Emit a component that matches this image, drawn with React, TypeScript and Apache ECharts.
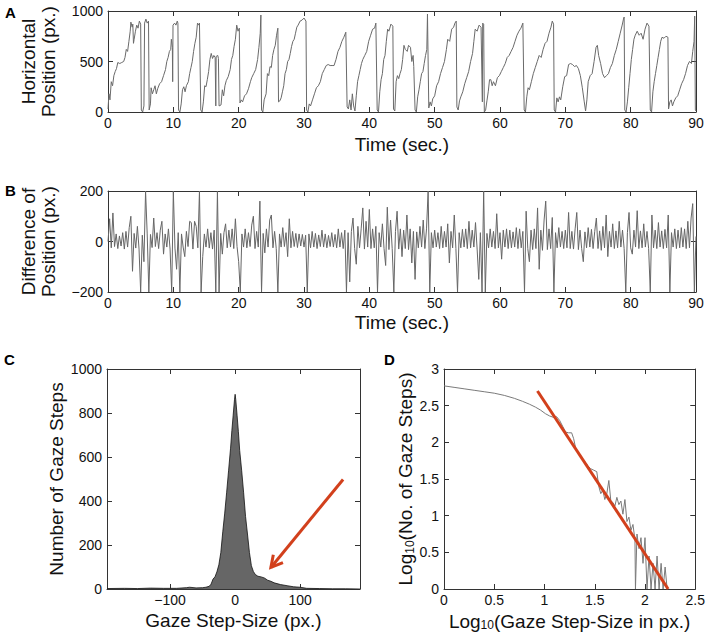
import React, { useEffect, useRef } from 'react';
import * as echarts from 'echarts';

const FONT = '"Liberation Sans", Arial, Helvetica, sans-serif';

// Panel A: horizontal gaze position over time [sec, px]
const positionSeries: [number, number][] = [
  [0.0, 30], [0.15, 180], [0.3, 120], [0.5, 300], [0.7, 260], [0.9, 360], [1.1, 400], [1.3, 430], [1.5, 490], [1.8, 480],
  [2.1, 490], [2.4, 500], [2.6, 540], [2.8, 620], [3.0, 600], [3.2, 700], [3.4, 800], [3.5, 890], [3.7, 840], [3.8, 870],
  [3.9, 680], [4.0, 720], [4.2, 800], [4.4, 860], [4.6, 830], [4.8, 900], [5.0, 870], [5.1, 20], [5.3, 0], [5.5, 60],
  [5.6, 880], [5.8, 920], [6.0, 880], [6.2, 900], [6.3, 20], [6.5, 80], [6.6, 240], [6.8, 180], [7.0, 220], [7.2, 260],
  [7.4, 180], [7.6, 230], [7.9, 280], [8.2, 300], [8.5, 360], [8.8, 420], [9.0, 500], [9.2, 540], [9.4, 600], [9.6, 620],
  [9.7, 720], [9.85, 640], [9.9, 300], [9.95, 860], [10.2, 880], [10.4, 860], [10.6, 900], [10.7, 880], [10.8, 20], [11.0, 0],
  [11.2, 80], [11.4, 220], [11.6, 250], [11.8, 200], [12.0, 260], [12.3, 300], [12.5, 380], [12.7, 440], [12.9, 500], [13.1, 600],
  [13.3, 680], [13.5, 740], [13.7, 880], [13.9, 860], [14.0, 880], [14.2, 20], [14.4, 0], [14.6, 100], [14.8, 260], [15.0, 250],
  [15.2, 320], [15.4, 400], [15.6, 520], [15.8, 580], [16.0, 530], [16.2, 560], [16.4, 540], [16.5, 60], [16.55, 550], [16.8, 560],
  [16.9, 530], [17.0, 60], [17.3, 70], [17.5, 220], [17.7, 160], [17.9, 260], [18.1, 310], [18.4, 350], [18.7, 420], [18.9, 520],
  [19.1, 560], [19.3, 650], [19.5, 720], [19.7, 860], [19.9, 800], [20.1, 830], [20.2, 90], [20.4, 120], [20.6, 100], [20.9, 160],
  [21.2, 180], [21.5, 230], [21.8, 300], [22.0, 340], [22.3, 380], [22.6, 420], [22.9, 520], [23.1, 640], [23.3, 780], [23.4, 960],
  [23.5, 20], [23.7, 0], [23.9, 120], [24.2, 180], [24.4, 380], [24.6, 360], [24.8, 450], [25.0, 440], [25.2, 560], [25.4, 620],
  [25.6, 660], [25.8, 760], [26.0, 830], [26.1, 100], [26.3, 110], [26.5, 140], [26.7, 200], [26.9, 260], [27.1, 380], [27.3, 420],
  [27.5, 500], [27.7, 520], [27.9, 580], [28.1, 650], [28.3, 700], [28.5, 720], [28.7, 780], [28.9, 840], [29.1, 860], [29.4, 900],
  [29.7, 910], [30.0, 930], [30.3, 900], [30.4, 20], [30.6, 0], [30.8, 80], [31.0, 60], [31.3, 120], [31.6, 180], [31.9, 240],
  [32.2, 260], [32.5, 300], [32.8, 380], [33.1, 420], [33.4, 460], [33.7, 470], [34.0, 460], [34.3, 460], [34.6, 460], [34.9, 520],
  [35.2, 600], [35.5, 640], [35.8, 700], [36.1, 740], [36.4, 790], [36.6, 50], [36.8, 30], [37.0, 120], [37.2, 20], [37.4, 180],
  [37.6, 60], [37.8, 10], [38.0, 160], [38.2, 300], [38.4, 360], [38.6, 420], [38.8, 480], [39.0, 520], [39.3, 560], [39.6, 600],
  [39.9, 700], [40.2, 760], [40.5, 820], [40.8, 830], [41.0, 880], [41.2, 20], [41.4, 0], [41.6, 200], [41.8, 320], [42.0, 380],
  [42.2, 520], [42.4, 560], [42.6, 700], [42.8, 820], [43.0, 800], [43.3, 870], [43.6, 850], [43.7, 30], [43.9, 10], [44.1, 300],
  [44.3, 360], [44.5, 330], [44.7, 380], [44.9, 420], [45.1, 520], [45.3, 660], [45.5, 620], [45.8, 600], [46.0, 660], [46.3, 640],
  [46.5, 500], [46.7, 560], [46.8, 450], [47.0, 20], [47.2, 0], [47.4, 150], [47.6, 220], [47.8, 300], [48.0, 380], [48.2, 400],
  [48.4, 480], [48.6, 560], [48.8, 620], [48.9, 970], [49.1, 40], [49.3, 100], [49.5, 60], [49.7, 130], [50.0, 160], [50.3, 260],
  [50.6, 300], [50.9, 380], [51.2, 440], [51.5, 500], [51.8, 620], [52.0, 720], [52.3, 700], [52.6, 820], [52.9, 840], [53.1, 880],
  [53.3, 900], [53.4, 50], [53.6, 20], [53.8, 110], [54.0, 150], [54.3, 200], [54.6, 280], [54.9, 340], [55.2, 400], [55.5, 500],
  [55.8, 580], [56.0, 700], [56.2, 820], [56.5, 800], [56.8, 860], [57.1, 840], [57.3, 100], [57.35, 880], [57.5, 870], [57.6, 0],
  [57.8, 20], [58.0, 110], [58.2, 200], [58.4, 320], [58.6, 320], [58.8, 260], [59.0, 300], [59.3, 260], [59.6, 340], [59.9, 360],
  [60.2, 400], [60.5, 440], [60.8, 480], [61.1, 540], [61.4, 560], [61.7, 600], [62.0, 640], [62.3, 700], [62.6, 760], [62.9, 800],
  [63.2, 830], [63.5, 880], [63.7, 20], [63.9, 0], [64.1, 150], [64.3, 240], [64.5, 220], [64.8, 300], [65.1, 380], [65.4, 440],
  [65.7, 500], [66.0, 560], [66.3, 540], [66.6, 620], [66.9, 680], [67.2, 700], [67.5, 780], [67.8, 840], [68.0, 900], [68.2, 870],
  [68.3, 20], [68.5, 0], [68.7, 140], [68.9, 100], [69.1, 150], [69.3, 120], [69.6, 250], [69.9, 350], [70.2, 360], [70.5, 470],
  [70.8, 480], [71.1, 470], [71.4, 450], [71.7, 460], [72.0, 430], [72.3, 360], [72.6, 240], [72.9, 100], [73.1, 10], [73.3, 120],
  [73.5, 300], [73.8, 360], [74.1, 380], [74.4, 500], [74.7, 640], [74.9, 660], [75.1, 560], [75.4, 480], [75.7, 380], [76.0, 340],
  [76.3, 360], [76.6, 380], [76.9, 440], [77.2, 480], [77.5, 560], [77.8, 620], [78.1, 700], [78.4, 780], [78.7, 860], [78.9, 920],
  [79.0, 940], [79.1, 20], [79.3, 0], [79.5, 100], [79.7, 240], [79.9, 380], [80.1, 520], [80.3, 620], [80.5, 720], [80.7, 760],
  [81.0, 800], [81.3, 760], [81.6, 780], [81.9, 720], [82.2, 820], [82.5, 880], [82.8, 850], [83.0, 20], [83.2, 0], [83.4, 200],
  [83.6, 300], [83.8, 380], [84.0, 460], [84.2, 540], [84.4, 620], [84.6, 700], [84.8, 740], [85.1, 730], [85.4, 750], [85.7, 740],
  [85.8, 30], [86.0, 100], [86.2, 120], [86.4, 60], [86.6, 100], [86.9, 140], [87.2, 160], [87.5, 220], [87.8, 280], [88.1, 320],
  [88.4, 380], [88.7, 460], [89.0, 500], [89.3, 480], [89.5, 600], [89.7, 700], [89.8, 950], [89.9, 20], [90.0, 10],
];

// Panel B: difference of position, one value every 0.25 s from t = 0
const diffStartSec = 0;
const diffStepSec = 0.25;
const diffValues: number[] = [
  0, 90, -25, 113, -20, 30, -28, 22, -18, 35, -30, 40, -22, 55, 100, -118, 32, -26, 60, -30,
  -200, 25, -80, 200, 30, -200, 28, -24, 93, -20, 35, -28, 45, 80, -50, 30, -22, 50, -30, -200,
  200, -26, -110, 35, -200, 30, -22, -60, 40, -20, 80, 75, -30, 80, 60, -25, 200, -200, -60, 30,
  -22, 50, -26, 35, -30, 45, -200, 200, -200, 32, -50, 35, 70, -25, 45, -22, 50, -28, 90, -20,
  -80, -200, 30, -22, 50, -25, 35, -20, 65, 100, -28, 40, -22, 160, -200, 32, -45, 50, -22, 85,
  105, -25, 40, -28, -200, 30, -22, 55, -20, 35, -60, 90, -25, 40, -20, 32, -24, 30, -18, 28,
  -22, 25, -200, 30, -25, 40, -22, 32, -28, 26, -20, 45, -22, 30, -25, 24, -20, 35, -22, 28,
  -25, 50, -22, 35, -28, 45, -200, 35, -160, 40, 93, -28, -90, 60, -25, 50, 133, -30, 80, -22,
  127, -28, 50, -25, 60, -200, 35, -22, 70, -28, -95, 136, -32, 85, -28, -200, 40, 120, -30, 50,
  -60, 45, -28, 105, -32, 50, -85, 40, -150, 38, -25, 60, -22, 85, -28, 50, 200, -200, 35, -25,
  45, -22, 35, -28, 60, -25, 40, -22, 70, -85, 40, -25, 105, -28, -200, 35, -25, 48, -22, 50,
  -28, 80, -25, 45, -22, 75, -30, -150, 35, -200, 200, -200, 32, -25, 50, -22, 40, -28, 110, -25,
  35, -70, 45, -22, 50, -28, 45, -25, 38, -22, 55, -28, 50, -25, 40, -200, 120, -28, -80, 45,
  -32, 50, -28, 133, -110, 45, -35, 85, 160, -32, 50, -28, 95, -200, 35, -25, 55, -22, 40, -28,
  45, -25, 115, -28, 40, -30, 50, 115, -32, 45, -28, -80, 38, -25, 55, -22, 48, -28, 40, 93,
  -28, 42, -35, 60, -25, 105, -60, 40, -22, 70, -28, 42, -25, 80, -22, 45, -28, -200, 35, 115,
  -25, -50, 45, -22, 122, -28, 42, -25, 70, -22, 40, -28, -200, 105, -25, 45, -28, 75, -22, 42,
  -28, 48, -25, 105, -200, 35, -22, 50, -28, 45, -25, 55, -22, 50, -28, 80, -25, 93, 150, -200,
  20,
];

// Panel C: histogram of gaze step sizes
const stepSizes: number[] = [
  -197, -170, -150, -130, -110, -90, -75, -70, -60, -50, -45, -40, -37, -34, -31, -28, -25, -22, -19, -16,
  -13, -10, -7, -5, -3, -1, 0, 1, 3, 5, 7, 10, 13, 16, 19, 22, 25, 28, 31, 35,
  40, 45, 50, 55, 60, 70, 80, 90, 100, 110, 130, 150, 170, 192,
];
const stepCounts: number[] = [
  2, 3, 2, 4, 3, 3, 6, 8, 5, 6, 8, 12, 22, 45, 55, 78, 110, 166, 260, 345,
  440, 540, 640, 720, 790, 860, 885, 860, 790, 715, 630, 540, 440, 330, 250, 166, 106, 80, 66, 58,
  55, 50, 40, 35, 28, 20, 15, 10, 8, 3, 2, 1, 1, 0,
];
// Red arrow in panel C: [fromX, fromY, toX, toY] in data units
const arrowSegment: number[] = [166, 498, 55, 98];

// Panel D: log-log distribution
const logStepSize: number[] = [
  0, 0.1, 0.2, 0.3, 0.4, 0.5, 0.6, 0.7, 0.78, 0.85, 0.91, 0.96, 1.01, 1.05, 1.09, 1.12, 1.15, 1.18, 1.21, 1.24,
  1.27, 1.29, 1.31, 1.34, 1.37, 1.4, 1.43, 1.46, 1.49, 1.52, 1.54, 1.56, 1.58, 1.6, 1.62, 1.64, 1.66, 1.68, 1.7, 1.72,
  1.74, 1.76, 1.78, 1.8, 1.82, 1.84, 1.86, 1.88, 1.9, 1.905, 1.92, 1.94, 1.96, 1.98, 2.0, 2.02, 2.04, 2.06, 2.08, 2.1,
  2.12, 2.14, 2.16, 2.18, 2.2, 2.22,
];
const logCount: number[] = [
  2.77, 2.75, 2.73, 2.71, 2.69, 2.67, 2.64, 2.6, 2.56, 2.52, 2.48, 2.44, 2.39, 2.36, 2.34, 2.35, 2.3, 2.22, 2.14, 2.13,
  2.13, 2.05, 1.92, 1.84, 1.78, 1.74, 1.68, 1.64, 1.62, 1.6, 1.4, 1.3, 1.35, 1.22, 1.3, 1.48, 1.2, 1.18, 1.13, 1.25,
  1.15, 1.2, 1.02, 1.22, 0.92, 0.98, 0.8, 0.88, 0.67, 0, 0.75, 0.55, 0.7, 0.35, 0.7, 0, 0.45, 0, 0.35, 0,
  0.45, 0, 0.35, 0, 0.3, 0,
];
const fitX: number[] = [0.93, 2.23];
const fitY: number[] = [2.7, 0];

const AXIS_COLOR = '#333';
const TEXT_COLOR = '#111';
const RED = '#d2401c';

const axisLine = { show: true, onZero: false, lineStyle: { color: AXIS_COLOR, width: 1 } };
const axisTick = { show: true, inside: true, length: 5, lineStyle: { color: AXIS_COLOR, width: 1 } };
const labelBase = { color: TEXT_COLOR, fontSize: 14, fontFamily: FONT };
const nameStyle = { color: TEXT_COLOR, fontSize: 19, fontFamily: FONT, lineHeight: 20 };
const minusFmt = (v: number) => String(v).replace('-', '\u2212');

function xPair(gridIndex: number, range: any, name: any, nameGap: number, extraName: any = {}, extraLabel: any = {}, extraTick: any = {}) {
  return [
    {
      type: 'value', gridIndex, position: 'bottom', ...range,
      name, nameLocation: 'middle', nameGap, nameTextStyle: { ...nameStyle, ...extraName },
      axisLine, axisTick: { ...axisTick, ...extraTick },
      axisLabel: { ...labelBase, margin: 4, formatter: minusFmt, ...extraLabel },
      splitLine: { show: false },
    },
    {
      type: 'value', gridIndex, position: 'top', ...range,
      axisLine, axisTick: { ...axisTick, ...extraTick },
      axisLabel: { show: false }, splitLine: { show: false },
    },
  ];
}

function yPair(gridIndex: number, range: any, name: any, nameGap: number, extraName: any = {}) {
  return [
    {
      type: 'value', gridIndex, position: 'left', ...range,
      name, nameLocation: 'middle', nameGap, nameTextStyle: { ...nameStyle, ...extraName },
      axisLine, axisTick,
      axisLabel: { ...labelBase, margin: 5, formatter: minusFmt },
      splitLine: { show: false },
    },
    {
      type: 'value', gridIndex, position: 'right', ...range,
      axisLine, axisTick, axisLabel: { show: false }, splitLine: { show: false },
    },
  ];
}

export default function App() {
  const ref = useRef<HTMLDivElement>(null);

  useEffect(() => {
    if (!ref.current) return;
    const chart = echarts.init(ref.current, undefined, { renderer: 'svg' });

    const diffData = diffValues.map((v, i) => [diffStartSec + i * diffStepSec, v]);
    const histData = stepSizes.map((x, i) => [x, stepCounts[i]]);
    const logData = logStepSize.map((x, i) => [x, logCount[i]]);
    const fitData = fitX.map((x, i) => [x, fitY[i]]);

    const richName = {
      n: { fontSize: 19, fontFamily: FONT, color: TEXT_COLOR },
      s: { fontSize: 12, fontFamily: FONT, color: TEXT_COLOR, verticalAlign: 'bottom' },
    };

    const option: any = {
      animation: false,
      backgroundColor: '#fff',
      textStyle: { fontFamily: FONT },
      grid: [
        { left: 108, top: 11, width: 588, height: 101 },
        { left: 108, top: 191, width: 588, height: 101 },
        { left: 107, top: 369, width: 253, height: 220 },
        { left: 444, top: 369, width: 253, height: 220 },
      ],
      xAxis: [
        ...xPair(0, { min: 0, max: 90, interval: 10 }, 'Time (sec.)', 22),
        ...xPair(1, { min: 0, max: 90, interval: 10 }, 'Time (sec.)', 20),
        ...xPair(2, { min: -197, max: 192 }, 'Gaze Step-Size (px.)', 21, {},
          { customValues: [-100, 0, 100] }, { customValues: [-100, 0, 100] }),
        ...xPair(3, { min: 0, max: 2.5, interval: 0.5 }, '{n|Log}{s|10}{n|(Gaze Step-Size in px.)}', 22, { rich: richName }),
      ],
      yAxis: [
        ...yPair(0, { min: 0, max: 1000, interval: 500 }, 'Horizontal\nPosition (px.)', 50),
        ...yPair(1, { min: -200, max: 200, interval: 200 }, 'Difference of\nPosition (px.)', 50),
        ...yPair(2, { min: 0, max: 1000, interval: 200 }, 'Number of Gaze Steps', 40),
        ...yPair(3, { min: 0, max: 3, interval: 0.5 }, '{n|Log}{s|10}{n|(No. of Gaze Steps)}', 24, { rich: richName }),
      ],
      series: [
        {
          type: 'line', xAxisIndex: 0, yAxisIndex: 0, data: positionSeries, showSymbol: false,
          lineStyle: { color: '#6a6a6a', width: 1 }, clip: true,
        },
        {
          type: 'line', xAxisIndex: 2, yAxisIndex: 2, data: diffData, showSymbol: false,
          lineStyle: { color: '#666', width: 1 }, clip: true,
        },
        {
          type: 'line', xAxisIndex: 4, yAxisIndex: 4, data: histData, showSymbol: false,
          lineStyle: { color: '#111', width: 0.8 }, areaStyle: { color: '#666', opacity: 1 }, clip: true,
        },
        {
          type: 'custom', xAxisIndex: 4, yAxisIndex: 4, data: [arrowSegment], z: 5,
          renderItem: (params: any, api: any) => {
            const s = api.coord([api.value(0), api.value(1)]);
            const e = api.coord([api.value(2), api.value(3)]);
            const ang = Math.atan2(e[1] - s[1], e[0] - s[0]);
            const L = 13;
            const a1 = ang + Math.PI - 0.5;
            const a2 = ang + Math.PI + 0.5;
            const h1 = [e[0] + L * Math.cos(a1), e[1] + L * Math.sin(a1)];
            const h2 = [e[0] + L * Math.cos(a2), e[1] + L * Math.sin(a2)];
            return {
              type: 'group',
              children: [
                { type: 'line', shape: { x1: s[0], y1: s[1], x2: e[0], y2: e[1] }, style: { stroke: RED, lineWidth: 3 } },
                { type: 'polyline', shape: { points: [h1, e, h2] }, style: { stroke: RED, lineWidth: 3, fill: 'none' } },
              ],
            };
          },
        },
        {
          type: 'line', xAxisIndex: 6, yAxisIndex: 6, data: logData, showSymbol: false,
          lineStyle: { color: '#7a7a7a', width: 1 }, clip: true,
        },
        {
          type: 'line', xAxisIndex: 6, yAxisIndex: 6, data: fitData, showSymbol: false,
          lineStyle: { color: RED, width: 3 }, clip: true, z: 4,
        },
      ],
      graphic: [
        { type: 'text', left: 5, top: 5, style: { text: 'A', font: `bold 15px ${FONT}`, fill: '#000' } },
        { type: 'text', left: 5, top: 183, style: { text: 'B', font: `bold 15px ${FONT}`, fill: '#000' } },
        { type: 'text', left: 4, top: 352, style: { text: 'C', font: `bold 15px ${FONT}`, fill: '#000' } },
        { type: 'text', left: 384, top: 352, style: { text: 'D', font: `bold 15px ${FONT}`, fill: '#000' } },
      ],
    };

    chart.setOption(option);
    return () => chart.dispose();
  }, []);

  return (
    <div
      ref={ref}
      style={{ position: 'fixed', left: 0, top: 0, width: 708, height: 637, background: '#fff' }}
    />
  );
}
